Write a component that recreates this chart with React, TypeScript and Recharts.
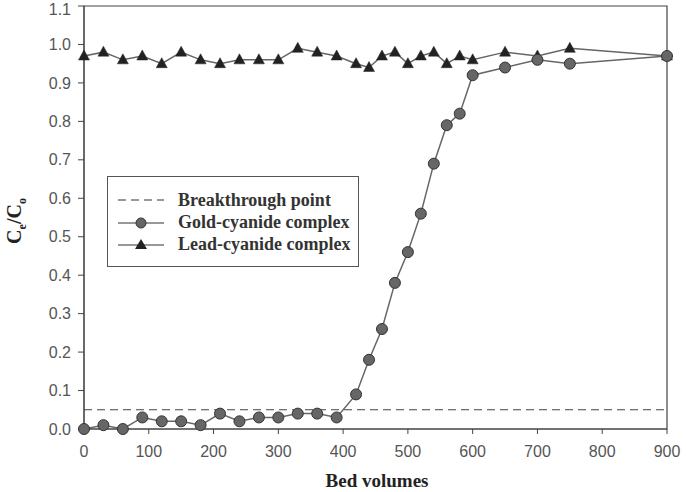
import React from "react";
import {
  ComposedChart,
  Line,
  XAxis,
  YAxis,
  ReferenceLine,
  ReferenceArea,
} from "recharts";

// bed volumes sampled for both columns
const BED_VOLUMES = [
  0, 30, 60, 90, 120, 150, 180, 210, 240, 270, 300, 330, 360, 390, 420, 440,
  460, 480, 500, 520, 540, 560, 580, 600, 650, 700, 750, 900,
];

// Ce/Co for the gold-cyanide complex
const GOLD = [
  0.0, 0.01, 0.0, 0.03, 0.02, 0.02, 0.01, 0.04, 0.02, 0.03, 0.03, 0.04, 0.04,
  0.03, 0.09, 0.18, 0.26, 0.38, 0.46, 0.56, 0.69, 0.79, 0.82, 0.92, 0.94, 0.96,
  0.95, 0.97,
];

// Ce/Co for the lead-cyanide complex
const LEAD = [
  0.97, 0.98, 0.96, 0.97, 0.95, 0.98, 0.96, 0.95, 0.96, 0.96, 0.96, 0.99, 0.98,
  0.97, 0.95, 0.94, 0.97, 0.98, 0.95, 0.97, 0.98, 0.95, 0.97, 0.96, 0.98, 0.97,
  0.99, 0.97,
];

const BREAKTHROUGH = 0.05;

const X_TICKS = [0, 100, 200, 300, 400, 500, 600, 700, 800, 900];
const Y_TICKS = [0, 0.1, 0.2, 0.3, 0.4, 0.5, 0.6, 0.7, 0.8, 0.9, 1.0, 1.1];

const LEGEND_ITEMS = [
  { name: "Breakthrough point", kind: "dash" },
  { name: "Gold-cyanide complex", kind: "circle" },
  { name: "Lead-cyanide complex", kind: "tri" },
];

const data = BED_VOLUMES.map((bv, i) => ({ bv, gold: GOLD[i], lead: LEAD[i] }));

const AXIS = "#444";
const LINE = "#666";
const TICK_STYLE = { fill: "#555", fontSize: 16, fontFamily: "Liberation Sans, Arial" };
const SERIF = "Liberation Serif, Times New Roman, serif";

const GoldDot = (props: any) => {
  const { cx, cy } = props;
  if (cx == null || cy == null) return null;
  return <circle cx={cx} cy={cy} r={5.5} fill="#666" stroke="#333" strokeWidth={1} />;
};

const LeadDot = (props: any) => {
  const { cx, cy } = props;
  if (cx == null || cy == null) return null;
  const h = 10;
  const w = 11;
  return (
    <polygon
      points={`${cx},${cy - h * 0.6} ${cx - w / 2},${cy + h * 0.4} ${cx + w / 2},${cy + h * 0.4}`}
      fill="#222"
      stroke="#222"
      strokeWidth={0.5}
    />
  );
};

// legend sits inside the plot frame, drawn over the chart
const LegendBox = () => (
  <div
    style={{
      position: "absolute",
      left: 107,
      top: 176,
      border: "1.5px solid #555",
      background: "#fff",
      width: 252,
      height: 91,
      boxSizing: "border-box",
      padding: "12px 0 0 10px",
      fontFamily: SERIF,
      fontWeight: "bold",
      fontSize: 18,
      color: "#333",
    }}
  >
    {LEGEND_ITEMS.map((it) => (
      <div key={it.name} style={{ display: "flex", alignItems: "center", height: 22.4 }}>
        <svg width={48} height={14} style={{ marginRight: 12, flex: "none" }}>
          {it.kind === "dash" ? (
            <line x1={0} y1={7} x2={46} y2={7} stroke="#777" strokeWidth={1.5} strokeDasharray="8 5" />
          ) : (
            <line x1={0} y1={7} x2={46} y2={7} stroke="#333" strokeWidth={1.2} />
          )}
          {it.kind === "circle" && <circle cx={23} cy={7} r={5} fill="#666" stroke="#333" />}
          {it.kind === "tri" && <polygon points="23,1 17,11 29,11" fill="#222" />}
        </svg>
        <span style={{ whiteSpace: "nowrap" }}>{it.name}</span>
      </div>
    ))}
  </div>
);

export default function App() {
  return (
    <div style={{ position: "absolute", left: 0, top: 0, width: 686, height: 492, background: "#fff" }}>
      <ComposedChart
        width={686}
        height={492}
        data={data}
        margin={{ top: 6, right: 19, left: 0, bottom: 0 }}
      >
        <ReferenceArea
          x1={0}
          x2={900}
          y1={0}
          y2={1.1}
          fill="none"
          stroke={AXIS}
          strokeWidth={1.2}
        />
        <XAxis
          dataKey="bv"
          type="number"
          domain={[0, 900]}
          ticks={X_TICKS}
          height={63}
          tickSize={5}
          tickMargin={12}
          stroke={AXIS}
          tick={TICK_STYLE}
          label={{
            content: () => (
              <text
                x={377}
                y={487}
                textAnchor="middle"
                fontFamily={SERIF}
                fontWeight="bold"
                fontSize={19}
                fill="#222"
              >
                Bed volumes
              </text>
            ),
          }}
        />
        <YAxis
          type="number"
          domain={[0, 1.1]}
          ticks={Y_TICKS}
          width={84}
          tickSize={6}
          tickMargin={7}
          stroke={AXIS}
          tick={TICK_STYLE}
          tickFormatter={(v: number) => v.toFixed(1)}
          label={{
            content: () => (
              <text
                transform="translate(21, 221) rotate(-90)"
                textAnchor="middle"
                fontFamily={SERIF}
                fontWeight="bold"
                fontSize={20}
                fill="#222"
              >
                C<tspan fontSize={12} dy={5}>e</tspan>
                <tspan dy={-5}>/C</tspan>
                <tspan fontSize={12} dy={5}>o</tspan>
              </text>
            ),
          }}
        />
        <ReferenceLine
          y={BREAKTHROUGH}
          stroke="#444"
          strokeWidth={1.2}
          strokeDasharray="8 5"
        />
        <Line
          dataKey="lead"
          stroke={LINE}
          strokeWidth={1.5}
          dot={<LeadDot />}
          isAnimationActive={false}
        />
        <Line
          dataKey="gold"
          stroke={LINE}
          strokeWidth={1.5}
          dot={<GoldDot />}
          isAnimationActive={false}
        />
      </ComposedChart>
      <LegendBox />
    </div>
  );
}
